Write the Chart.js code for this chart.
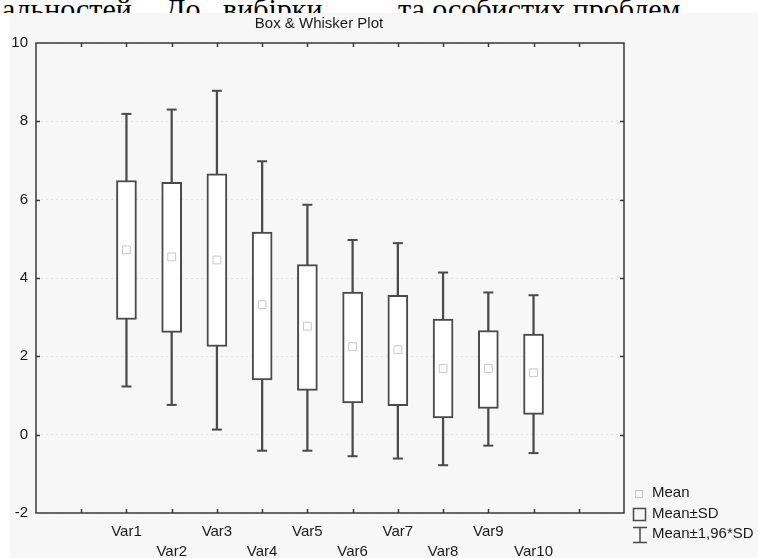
<!DOCTYPE html>
<html><head><meta charset="utf-8">
<script src="https://cdn.jsdelivr.net/npm/chart.js@4"></script>
<style>
html,body{margin:0;padding:0;background:#fff;width:758px;height:558px;overflow:hidden;}
#doc{position:absolute;left:0;top:0;width:758px;height:13px;overflow:hidden;font-family:'Liberation Serif','Times New Roman',serif;font-size:30px;line-height:30px;color:#000;}
#doc span{position:absolute;top:-6px;white-space:nowrap;}
#wrap{position:absolute;left:10px;top:13px;width:748px;height:545px;background:#f7f7f7;}
canvas{display:block;}
</style></head><body>
<div id="doc"><span style="left:2px">альностей.</span><span style="left:165px">До</span><span style="left:223px">вибірки</span><span style="left:398px">та особистих проблем.</span></div>
<div id="wrap"><canvas id="c" width="748" height="545"></canvas></div>
<script>
const categories = ['Var1','Var2','Var3','Var4','Var5','Var6','Var7','Var8','Var9','Var10'];
const means  = [4.72, 4.54, 4.46, 3.32, 2.77, 2.25, 2.17, 1.69, 1.69, 1.58];
const sdLow  = [2.94, 2.61, 2.25, 1.40, 1.13, 0.81, 0.74, 0.43, 0.67, 0.52];
const sdHigh = [6.49, 6.44, 6.66, 5.17, 4.34, 3.64, 3.56, 2.95, 2.66, 2.57];
const ciLow  = [1.23, 0.76, 0.13, -0.41, -0.41, -0.55, -0.61, -0.78, -0.28, -0.47];
const ciHigh = [8.19, 8.30, 8.78, 6.98, 5.87, 4.97, 4.89, 4.14, 3.63, 3.56];
const chartTitle = 'Box & Whisker Plot';
const legendLabels = ['Mean', 'Mean±SD', 'Mean±1,96*SD'];

const xs = categories.map((_, i) => i + 2);
const FONT = "'Liberation Sans', Arial, sans-serif";
const LINE = '#4a4a4a';
Chart.defaults.font.family = FONT;
Chart.defaults.font.size = 15;
Chart.defaults.color = '#1a1a1a';

const deco = {
  id: 'deco',
  afterDatasetsDraw(chart) {
    const ctx = chart.ctx, a = chart.chartArea;
    const sx = chart.scales.x, sy = chart.scales.y;
    ctx.save();
    ctx.strokeStyle = '#3a3a3a';
    ctx.lineWidth = 1.5;
    ctx.strokeRect(a.left, a.top, a.right - a.left, a.bottom - a.top);
    ctx.beginPath();
    sx.ticks.forEach(t => {
      if (t.value <= sx.min || t.value >= sx.max) return;
      const p = Math.round(sx.getPixelForValue(t.value)) + 0.5;
      ctx.moveTo(p, a.top); ctx.lineTo(p, a.top + 4);
      ctx.moveTo(p, a.bottom); ctx.lineTo(p, a.bottom - 4);
    });
    sy.ticks.forEach(t => {
      if (t.value <= sy.min || t.value >= sy.max) return;
      const p = Math.round(sy.getPixelForValue(t.value)) + 0.5;
      ctx.moveTo(a.left, p); ctx.lineTo(a.left + 4, p);
      ctx.moveTo(a.right, p); ctx.lineTo(a.right - 4, p);
    });
    ctx.stroke();
    ctx.restore();
  },
  afterDraw(chart) {
    const ctx = chart.ctx;
    ctx.save();
    ctx.fillStyle = '#1a1a1a';
    ctx.font = '15px ' + FONT;
    ctx.textAlign = 'center';
    ctx.textBaseline = 'alphabetic';
    ctx.fillText(chartTitle, 309, 15);
    // legend
    ctx.textAlign = 'left';
    ctx.textBaseline = 'middle';
    ctx.strokeStyle = '#c8c8c8';
    ctx.lineWidth = 1;
    ctx.strokeRect(625.5, 477.5, 7, 7);
    ctx.strokeStyle = LINE;
    ctx.lineWidth = 1.5;
    ctx.strokeRect(623.5, 495.5, 12, 12);
    ctx.beginPath();
    ctx.moveTo(630, 514); ctx.lineTo(630, 530);
    ctx.moveTo(623, 514.5); ctx.lineTo(637, 514.5);
    ctx.moveTo(623, 529.5); ctx.lineTo(637, 529.5);
    ctx.stroke();
    ctx.fillText(legendLabels[0], 642, 480);
    ctx.fillText(legendLabels[1], 642, 501);
    ctx.fillText(legendLabels[2], 642, 521);
    ctx.restore();
  }
};

new Chart(document.getElementById('c'), {
  type: 'bar',
  data: {
    datasets: [
      {
        type: 'bar', label: 'whisker', order: 3, grouped: false,
        data: xs.map((x, i) => ({ x, y: [ciLow[i], ciHigh[i]] })),
        barThickness: 1.6, backgroundColor: LINE, borderWidth: 0
      },
      {
        type: 'bar', label: 'Mean±SD', order: 2, grouped: false,
        data: xs.map((x, i) => ({ x, y: [sdLow[i], sdHigh[i]] })),
        barThickness: 20, backgroundColor: '#ffffff', borderColor: LINE,
        borderWidth: 2, borderSkipped: false
      },
      {
        type: 'line', label: 'caps', order: 1, showLine: false,
        data: xs.map((x, i) => ({ x, y: ciHigh[i] })).concat(xs.map((x, i) => ({ x, y: ciLow[i] }))),
        pointStyle: 'line', pointRadius: 5, borderColor: LINE, borderWidth: 2
      },
      {
        type: 'line', label: 'Mean', order: 0, showLine: false,
        data: xs.map((x, i) => ({ x, y: means[i] })),
        pointStyle: 'rect', pointRadius: 5.5, borderColor: '#c8c8c8',
        backgroundColor: '#ffffff', borderWidth: 1
      }
    ]
  },
  options: {
    responsive: false,
    animation: false,
    events: [],
    layout: { padding: { top: 30, right: 134, left: 0, bottom: 0 } },
    plugins: { legend: { display: false }, tooltip: { enabled: false }, title: { display: false } },
    scales: {
      x: {
        type: 'linear', min: 0, max: 13, offset: false,
        grid: { display: false, offset: false, drawTicks: false },
        border: { display: false },
        afterFit: s => { s.height = 45; },
        ticks: {
          stepSize: 1, autoSkip: false, maxRotation: 0, padding: 9,
          font: { size: 15, lineHeight: 20 / 15 },
          callback: v => {
            const i = v - 2;
            if (!Number.isInteger(i) || i < 0 || i >= categories.length) return '';
            return i % 2 === 0 ? categories[i] : ['', categories[i]];
          }
        }
      },
      y: {
        type: 'linear', min: -2, max: 10,
        grid: { color: '#e2e2e2', lineWidth: 1, drawTicks: false },
        border: { display: false, dash: [2, 3] },
        afterFit: s => { s.width = 26; },
        ticks: { stepSize: 2, padding: 8, font: { size: 15 } }
      }
    }
  },
  plugins: [deco]
});
</script>
</body></html>
